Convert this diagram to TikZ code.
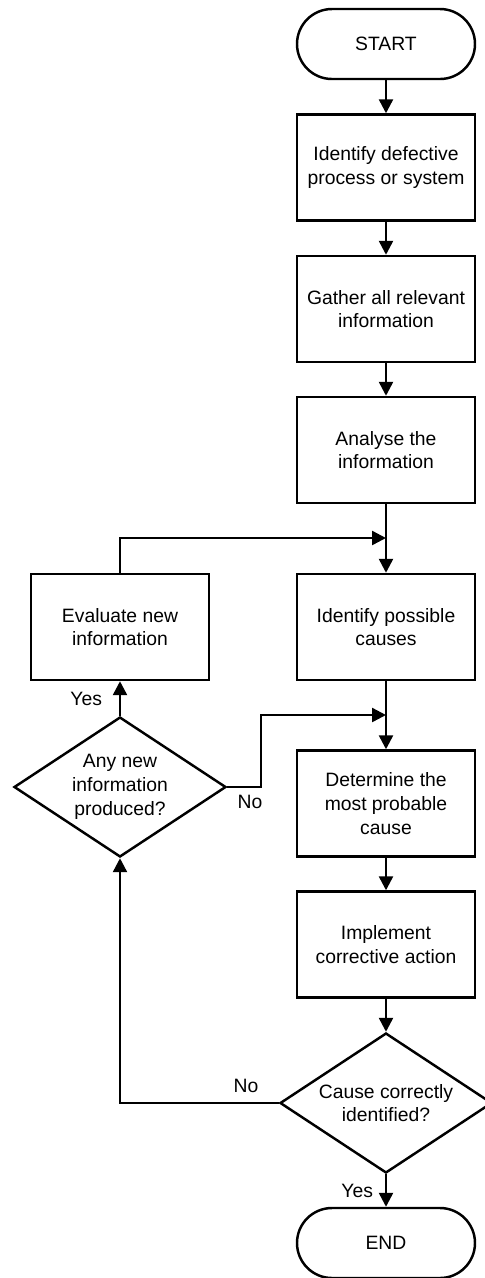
\documentclass[tikz,border=0pt]{standalone}
\usepackage{fontspec}
\setmainfont{Liberation Sans}
\usetikzlibrary{arrows.meta,shapes.geometric,positioning}
\tikzset{
  flow/.style={line width=1.4pt},
  arr/.style={flow,-{Triangle[length=0.28cm,width=0.28cm]}},
  stepbox/.style={draw,flow,minimum width=3.56cm,minimum height=2.12cm,align=center,font=\fontsize{11}{13.5}\selectfont},
  termbox/.style={draw,flow,rounded corners=0.7cm,minimum width=3.56cm,minimum height=1.4cm,align=center,font=\fontsize{11}{13.5}\selectfont},
  askbox/.style={draw,flow,diamond,shape aspect=1.5,inner sep=0pt,minimum width=4.24cm,minimum height=2.8cm,align=center,font=\fontsize{11}{13.5}\selectfont},
  tag/.style={font=\fontsize{11}{13}\selectfont,inner sep=1pt}
}
\begin{document}
\begin{tikzpicture}
            \useasboundingbox (0,0) rectangle (9.7,-25.56);
            % main column
            \node[termbox] (start) at (7.72,-0.88) {START};
            \node[stepbox] (defect) at (7.72,-3.35) {Identify defective\\process or system};
            \node[stepbox] (gather) at (7.72,-6.18) {Gather all relevant\\information};
            \node[stepbox] (analyse) at (7.72,-9.00) {Analyse the\\information};
            \node[stepbox] (causes) at (7.72,-12.54) {Identify possible\\causes};
            \node[stepbox] (probable) at (7.72,-16.07) {Determine the\\most probable\\cause};
            \node[stepbox] (implement) at (7.72,-18.89) {Implement\\corrective action};
            \node[askbox] (correct) at (7.72,-22.06) {Cause correctly\\identified?};
            \node[termbox] (end) at (7.72,-24.86) {END};
            % left column
            \node[stepbox] (evaluate) at (2.40,-12.54) {Evaluate new\\information};
            \node[askbox] (newinfo) at (2.40,-15.74) {Any new\\information\\produced?};
            % merge points
            \coordinate (m1) at (7.72,-10.76);
            \coordinate (m2) at (7.72,-14.30);
            \coordinate (bend) at (5.22,-15.74);
            % arrows
            \draw[arr] (start) -- (defect);
            \draw[arr] (defect) -- (gather);
            \draw[arr] (gather) -- (analyse);
            \draw[arr] (analyse) -- (causes);
            \draw[arr] (causes) -- (probable);
            \draw[arr] (probable) -- (implement);
            \draw[arr] (implement) -- (correct);
            \draw[arr] (correct) -- node[tag,midway,left=0.2cm] (yes2) {Yes} (end);
            \draw[arr] (newinfo) -- node[tag,midway,left=0.3cm] (yes1) {Yes} (evaluate);
            \draw[arr] (evaluate.north) |- (m1);
            \draw[arr] (newinfo.east) node[tag,below right=0.1cm and 0.15cm] (no1) {No} -- (bend) |- (m2);
            \draw[arr] (correct.west) node[tag,above left=0.15cm and 0.35cm] (no2) {No} -| (newinfo.south);
        \end{tikzpicture}
\end{document}
